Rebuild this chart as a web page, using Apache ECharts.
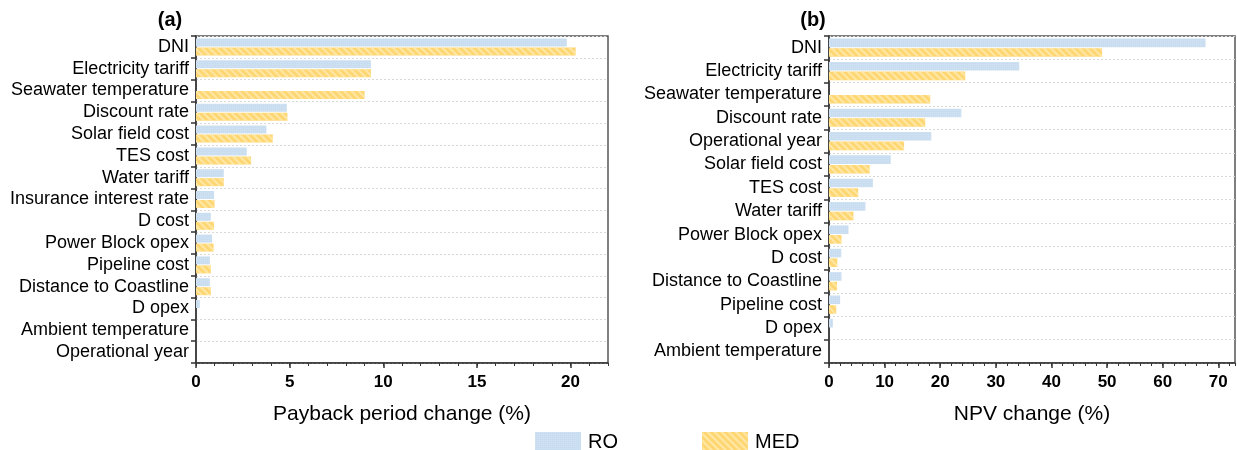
<!DOCTYPE html>
<html><head><meta charset="utf-8">
<script src="https://cdn.jsdelivr.net/npm/echarts@6/dist/echarts.min.js"></script>
<style>html,body{margin:0;padding:0;background:#fff}#c{width:1237px;height:450px}</style>
</head><body><div id="c"></div>
<script>
var catsA = ['DNI','Electricity tariff','Seawater temperature','Discount rate','Solar field cost','TES cost','Water tariff','Insurance interest rate','D cost','Power Block opex','Pipeline cost','Distance to Coastline','D opex','Ambient temperature','Operational year'];
var roA  = [19.8, 9.34, 0, 4.85, 3.76, 2.71, 1.48, 0.96, 0.79, 0.86, 0.74, 0.74, 0.2, 0, 0];
var medA = [20.27, 9.34, 9.0, 4.88, 4.1, 2.94, 1.48, 0.99, 0.96, 0.94, 0.79, 0.79, 0, 0, 0];

var catsB = ['DNI','Electricity tariff','Seawater temperature','Discount rate','Operational year','Solar field cost','TES cost','Water tariff','Power Block opex','D cost','Distance to Coastline','Pipeline cost','D opex','Ambient temperature'];
var roB  = [67.7, 34.2, 0, 23.8, 18.4, 11.1, 7.9, 6.55, 3.5, 2.2, 2.25, 2.0, 0.7, 0];
var medB = [49.1, 24.5, 18.2, 17.3, 13.5, 7.3, 5.25, 4.4, 2.25, 1.5, 1.45, 1.3, 0, 0];

var FONT = '"Liberation Sans", Arial, sans-serif';
var roStyle = {color:'#c8ddf0',
  decal:{symbol:'rect', symbolSize:1, dashArrayX:[1,1], dashArrayY:[1,1], color:'rgba(255,255,255,0.2)'}};
var medStyle = {color:'#ffd674',
  decal:{symbol:'rect', symbolSize:1, dashArrayX:[1,0], dashArrayY:[2,3], rotation:Math.PI/4, color:'rgba(255,236,180,0.75)'}};

function xMajor(gi, max, interval, name){
  return {type:'value', gridIndex:gi, min:0, max:max, interval:interval, position:'bottom',
    name:name, nameLocation:'middle', nameGap:41, nameTextStyle:{fontSize:21, fontFamily:FONT, color:'#000'},
    axisLine:{show:true, lineStyle:{color:'#333', width:1.5}},
    axisTick:{show:true, inside:false, length:5, lineStyle:{color:'#333', width:1.5}},
    axisLabel:{fontSize:17, fontWeight:'bold', color:'#000', fontFamily:FONT, margin:11, showMaxLabel:false},
    splitLine:{show:false}};
}
function xMinor(gi, max, interval){
  return {type:'value', gridIndex:gi, min:0, max:max, interval:interval, position:'bottom',
    axisLine:{show:false}, axisTick:{show:true, length:3, lineStyle:{color:'#333', width:1}},
    axisLabel:{show:false}, splitLine:{show:false}};
}
function yCat(gi, cats){
  return {type:'category', gridIndex:gi, data:cats, inverse:true,
    axisLine:{show:true, lineStyle:{color:'#333', width:1.5}},
    axisTick:{show:true, interval:0, length:5, lineStyle:{color:'#333', width:1.5}},
    axisLabel:{interval:0, fontSize:18, color:'#000', fontFamily:FONT, margin:7},
    splitLine:{show:true, interval:0, lineStyle:{color:'#d8d8d8', type:[2,2], width:1}}};
}
function bar(name, xi, yi, data, style, w){
  return {type:'bar', name:name, xAxisIndex:xi, yAxisIndex:yi, data:data, itemStyle:style,
    barWidth:w, barGap:'12%', silent:true, animation:false};
}

var chart = echarts.init(document.getElementById('c'), null, {renderer:'canvas'});
chart.setOption({
  animation:false,
  textStyle:{fontFamily:FONT},
  grid:[
    {left:196, top:36, width:412, height:327, show:true, borderColor:'#555', borderWidth:1.5, backgroundColor:'transparent'},
    {left:829, top:36, width:406, height:327, show:true, borderColor:'#555', borderWidth:1.5, backgroundColor:'transparent'}
  ],
  title:[
    {text:'(a)', left:165, top:5, textAlign:'center', textStyle:{fontSize:20, fontWeight:'bold', color:'#000', fontFamily:FONT}},
    {text:'(b)', left:808, top:5, textAlign:'center', textStyle:{fontSize:20, fontWeight:'bold', color:'#000', fontFamily:FONT}}
  ],
  legend:{left:530, top:427, padding:5, itemWidth:46, itemHeight:20, itemGap:84, icon:'rect',
    textStyle:{fontSize:20, color:'#000', fontFamily:FONT, padding:[0,0,0,2]}, data:['RO','MED']},
  xAxis:[xMajor(0,22,5,'Payback period change (%)'), xMinor(0,22,1), xMajor(1,73,10,'NPV change (%)'), xMinor(1,73,2)],
  yAxis:[yCat(0,catsA), yCat(1,catsB)],
  series:[
    bar('RO',0,0,roA,roStyle,8), bar('MED',0,0,medA,medStyle,8),
    bar('RO',2,1,roB,roStyle,8.6), bar('MED',2,1,medB,medStyle,8.6)
  ]
});
</script></body></html>
